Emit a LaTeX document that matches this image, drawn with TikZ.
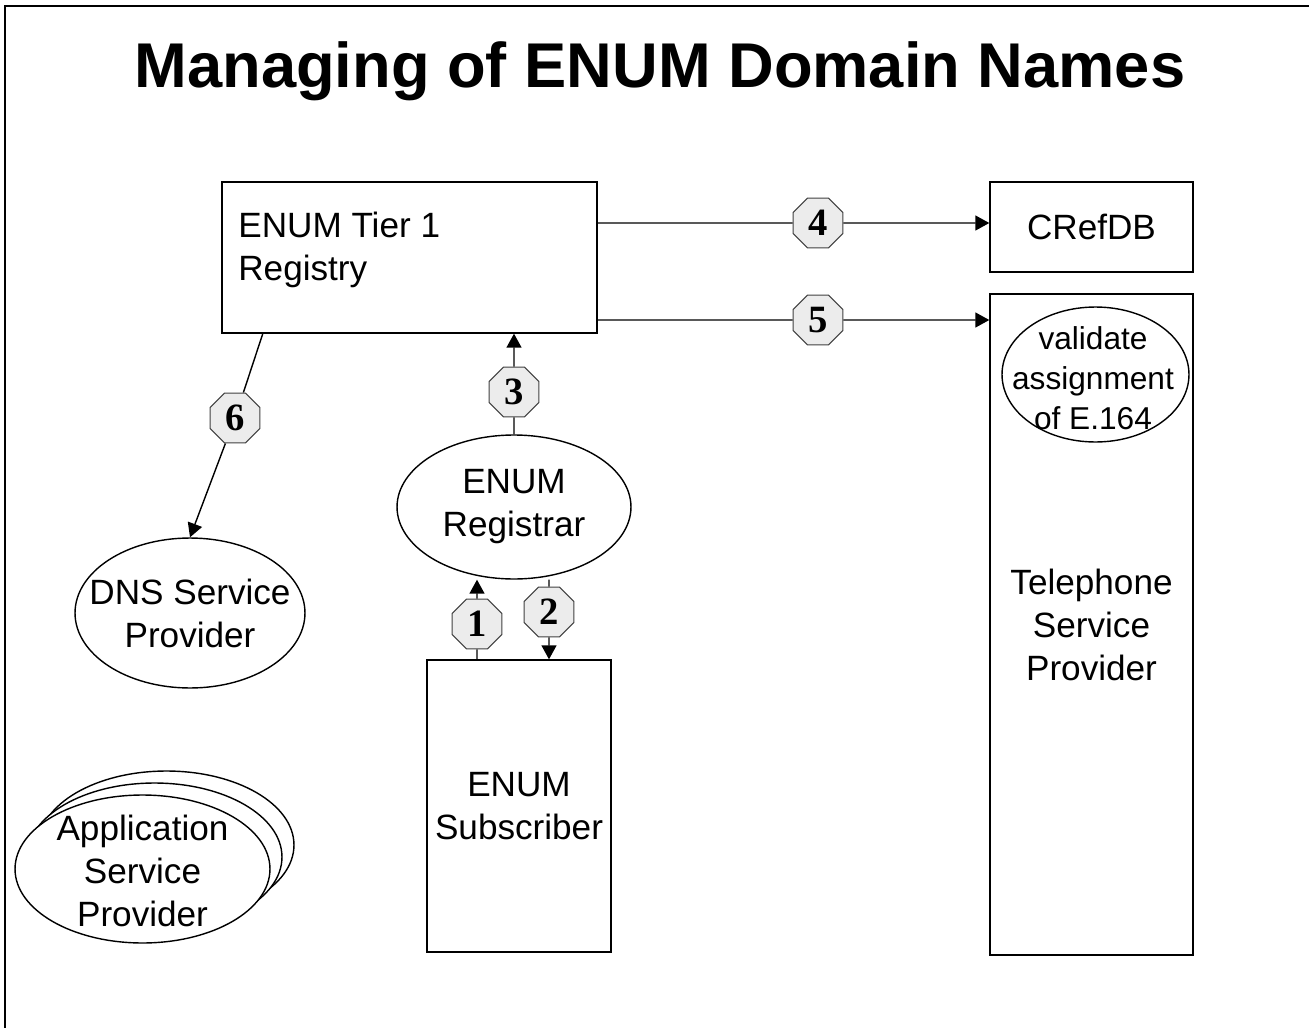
\documentclass[tikz,border=0pt]{standalone}
\usepackage{fontspec}
\setmainfont{Liberation Sans}
\newfontfamily\numfont{Liberation Serif}
\usetikzlibrary{arrows.meta}
\usetikzlibrary{shapes.geometric}
\tikzstyle{box}=[rectangle, draw=black, line width=0.8pt, fill=white, inner sep=0pt, align=center, font=\fontsize{20}{24.5}\selectfont]
\tikzstyle{oval}=[ellipse, draw=black, line width=0.8pt, fill=white, inner sep=0pt]
\tikzstyle{words}=[inner sep=0pt, align=center, font=\fontsize{20}{24.5}\selectfont]
\tikzstyle{tag}=[regular polygon, regular polygon sides=8, draw=black!75, line width=0.6pt, fill=gray!15, minimum size=10.8mm, inner sep=0pt, font=\numfont\bfseries\fontsize{22}{22}\selectfont]
\tikzstyle{link}=[line width=0.8pt]
\tikzset{>={Triangle[length=2.8mm,width=3mm]}}

\begin{document}
\begin{tikzpicture}[x=0.02cm, y=-0.02cm]
      \useasboundingbox (0,0) rectangle (1309,1028);
      \draw[line width=1.2pt] (5,1028) -- (5,6) -- (1309,6);

      \draw node at (660,87) [anchor=base, font=\bfseries\fontsize{36}{40}\selectfont] (title) {Managing of ENUM Domain Names};

      % boxes
      \draw node at (409.5,257.5) [box, minimum width=7.5cm, minimum height=3.02cm] (tier) {};
      \draw node at (238,250) [words, anchor=west, align=left] (tiertext) {ENUM Tier 1\\Registry};
      \draw node at (1091.5,227) [box, minimum width=4.06cm, minimum height=1.8cm] (cref) {CRefDB};
      \draw node at (1091.5,624.5) [box, minimum width=4.06cm, minimum height=13.22cm] (tel) {Telephone\\Service\\Provider};
      \draw node at (519,806) [box, minimum width=3.68cm, minimum height=5.84cm] (sub) {ENUM\\Subscriber};

      % ellipses (text set on top, it may run over the rim)
      \draw node at (1095.5,374.5) [oval, minimum width=3.74cm, minimum height=2.7cm] (valid) {};
      \draw node at (1093,378) [words, font=\fontsize{18}{22.8}\selectfont] (validtext) {validate\\assignment\\of E.164};
      \draw node at (514,507) [oval, minimum width=4.68cm, minimum height=2.88cm] (reg) {};
      \draw node at (514,507) [words] (regtext) {ENUM\\Registrar};
      \draw node at (190,613) [oval, minimum width=4.6cm, minimum height=3cm] (dns) {};
      \draw node at (190,613) [words] (dnstext) {DNS Service\\Provider};
      \draw node at (166.5,845) [oval, minimum width=5.1cm, minimum height=2.96cm] (app3) {};
      \draw node at (154.5,857) [oval, minimum width=5.1cm, minimum height=2.96cm] (app2) {};
      \draw node at (142.5,869) [oval, minimum width=5.1cm, minimum height=2.96cm] (app) {};
      \draw node at (142.5,871) [words] (apptext) {Application\\Service\\Provider};

      % numbered steps
      \draw node at (477,624) [tag] (b1) {1};
      \draw node at (549,612) [tag] (b2) {2};
      \draw node at (514,392) [tag] (b3) {3};
      \draw node at (818,223) [tag] (b4) {4};
      \draw node at (818,320) [tag] (b5) {5};
      \draw node at (235,418) [tag] (b6) {6};
      \coordinate (t6) at (263,333);

      \draw [link] (sub.north -| b1) to (b1);
      \draw [link, ->] (b1) to (reg.south -| b1);
      \draw [link] (reg.south -| b2) to (b2);
      \draw [link, ->] (b2) to (sub.north -| b2);
      \draw [link] (reg) to (b3);
      \draw [link, ->] (b3) to (tier.south -| b3);
      \draw [link] (tier.east |- b4) to (b4);
      \draw [link, ->] (b4) to (cref.west |- b4);
      \draw [link] (tier.east |- b5) to (b5);
      \draw [link, ->] (b5) to (tel.west |- b5);
      \draw [link] (t6) to (b6);
      \draw [link, ->] (b6) to (dns.north);
    \end{tikzpicture}
\end{document}
